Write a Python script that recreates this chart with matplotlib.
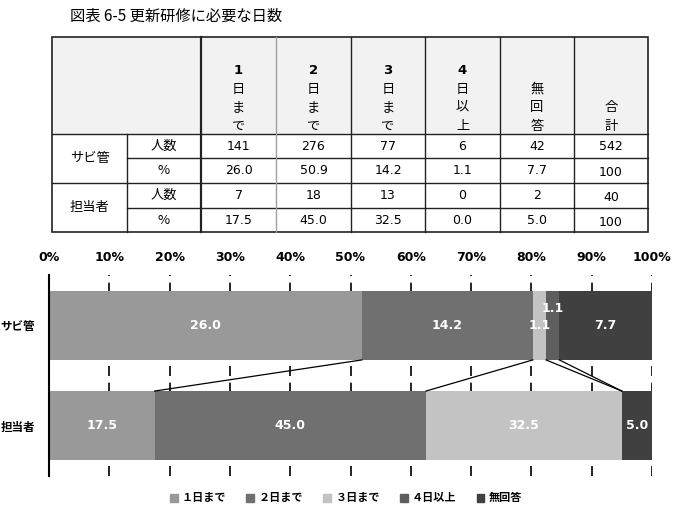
import numpy as np
import matplotlib.pyplot as plt
from matplotlib.patches import Patch, Rectangle
from matplotlib.ticker import PercentFormatter

JP = ['Noto Sans CJK JP', 'DejaVu Sans']
NUM = ['DejaVu Sans', 'Noto Sans CJK JP']
plt.rcParams['font.family'] = JP

TITLE = "図表 6-5 更新研修に必要な日数"
groups = ["サビ管", "担当者"]
answers = ["１日まで", "２日まで", "３日まで", "４日以上", "無回答"]
head_cols = [["1", "日", "ま", "で"], ["2", "日", "ま", "で"], ["3", "日", "ま", "で"],
             ["4", "日", "以", "上"], ["無", "回", "答"], ["合", "計"]]
row_kinds = ["人数", "%"]

# table values
sabi_n = [141, 276, 77, 6, 42, 542]
sabi_pct = [26.0, 50.9, 14.2, 1.1, 7.7]
tanto_n = [7, 18, 13, 0, 2, 40]
tanto_pct = [17.5, 45.0, 32.5, 0.0, 5.0]

# values fed to the graph (top bar in the source uses a different row, kept as drawn)
sabi_bar = [26.0, 14.2, 1.1, 1.1, 7.7]
tanto_bar = [17.5, 45.0, 32.5, 0.0, 5.0]
colors = ["#999999", "#707070", "#c3c3c3", "#5e5e5e", "#404040"]

W, H = 675, 509
fig = plt.figure(figsize=(W / 100, H / 100), dpi=100)


def box(l, t, r, b):
    return [l / W, 1 - b / H, (r - l) / W, (b - t) / H]


# --- table (pixel coords) ---
tb = fig.add_axes([0, 0, 1, 1])
tb.set_xlim(0, W); tb.set_ylim(H, 0); tb.axis("off")

tb.text(70, 16, TITLE, fontsize=11, va="center", ha="left")

xs = [52, 127, 201, 276, 351, 425, 500, 574, 648]
ys = [37, 134, 158, 183, 208, 232]
LC, LW = "#222222", 1.0
tb.add_patch(Rectangle((xs[0], ys[0]), xs[-1] - xs[0], ys[1] - ys[0], color="#f2f2f2", lw=0))
tb.add_patch(Rectangle((xs[0], ys[0]), xs[-1] - xs[0], ys[-1] - ys[0], fill=False, ec=LC, lw=1.2))
for yy in (ys[1], ys[3]):
    tb.plot([xs[0], xs[-1]], [yy, yy], color=LC, lw=LW)
for yy in (ys[2], ys[4]):
    tb.plot([xs[1], xs[-1]], [yy, yy], color=LC, lw=LW)
tb.plot([xs[1], xs[1]], [ys[1], ys[-1]], color=LC, lw=LW)
tb.plot([xs[2], xs[2]], [ys[0], ys[-1]], color=LC, lw=1.6)
tb.plot([xs[3], xs[3]], [ys[0], ys[-1]], color="#a0a0a0", lw=LW)
for xx in xs[4:-1]:
    tb.plot([xx, xx], [ys[0], ys[-1]], color=LC, lw=LW)

colc = [(xs[i] + xs[i + 1]) / 2 for i in range(2, 8)]
for cx, chars in zip(colc, head_cols):
    for k, ch in enumerate(reversed(chars)):
        bold = ch.isdigit()
        tb.text(cx, 126 - 18.5 * k, ch, ha="center", va="center", fontsize=9.5,
                fontweight="bold" if bold else "normal", family=NUM if bold else JP)

rowc = [(ys[i] + ys[i + 1]) / 2 for i in range(1, 5)]
gx = (xs[0] + xs[1]) / 2
kx = (xs[1] + xs[2]) / 2
tb.text(gx, (ys[1] + ys[3]) / 2, groups[0], ha="center", va="center", fontsize=9.5)
tb.text(gx, (ys[3] + ys[5]) / 2, groups[1], ha="center", va="center", fontsize=9.5)
rows = [sabi_n, [f"{v:.1f}" for v in sabi_pct] + ["100"],
        tanto_n, [f"{v:.1f}" for v in tanto_pct] + ["100"]]
for r, (cy, vals) in enumerate(zip(rowc, rows)):
    tb.text(kx, cy, row_kinds[r % 2], ha="center", va="center", fontsize=9.5)
    for c, (cx, v) in enumerate(zip(colc, vals)):
        dy = 2 if (c == 5 and r > 0) else 0
        tb.text(cx, cy + dy, str(v), ha="center", va="center", fontsize=9, family=NUM)

# --- chart ---
ax = fig.add_axes(box(49, 275, 652, 476))
vals = np.array([sabi_bar, tanto_bar])
shares = vals / vals.sum(axis=1, keepdims=True)
y = np.arange(len(groups))
h = 0.69
left = np.zeros(len(groups))
for j, name in enumerate(answers):
    ax.barh(y, shares[:, j], h, left=left, color=colors[j], label=name, zorder=2)
    for i in range(len(groups)):
        v = vals[i, j]
        if v == 0:
            continue
        dy = 12 if (i == 0 and j == 3) else 0  # excel nudged the overlapping label
        ax.annotate(f"{v:.1f}", (left[i] + shares[i, j] / 2, i), xytext=(0, dy),
                    textcoords="offset points", ha="center", va="center", color="white",
                    fontweight="bold", fontsize=9, family=NUM, zorder=4)
    left += shares[:, j]

# series lines between the bars
cum = np.cumsum(shares, axis=1)
for k in range(len(answers) - 1):
    ax.plot([cum[0, k], cum[1, k]], [h / 2, 1 - h / 2], color="black", lw=0.9, zorder=3)

ax.set_xlim(0, 1)
ax.set_ylim(1.5, -0.5)
ax.set_xticks(np.linspace(0, 1, 11))
ax.xaxis.set_major_formatter(PercentFormatter(1.0, decimals=0))
ax.xaxis.tick_top()
ax.tick_params(axis="x", length=0, pad=8, labelsize=9)
for lab in ax.get_xticklabels():
    lab.set_fontweight("bold"); lab.set_family(NUM)
ax.grid(axis="x", color="black", linestyle=(0, (6, 4)), lw=1.2)
ax.set_axisbelow(True)
ax.set_yticks(y, groups)
ax.tick_params(axis="y", length=0, pad=10, labelsize=8.3)
for lab in ax.get_yticklabels():
    lab.set_fontweight("bold")
for s in ("top", "right", "bottom"):
    ax.spines[s].set_visible(False)
ax.spines["left"].set_linewidth(1.5)
ax.set_facecolor("none")

handles = [Patch(color=c, label=a) for c, a in zip(colors, answers)]
fig.legend(handles=handles, loc="center", bbox_to_anchor=(346 / W, 1 - 498 / H), ncol=5,
           frameon=False, handlelength=0.7, handleheight=0.7, handletextpad=0.4,
           columnspacing=1.8, prop={"family": JP, "weight": "bold", "size": 8})

fig.savefig("out.png", dpi=100)
